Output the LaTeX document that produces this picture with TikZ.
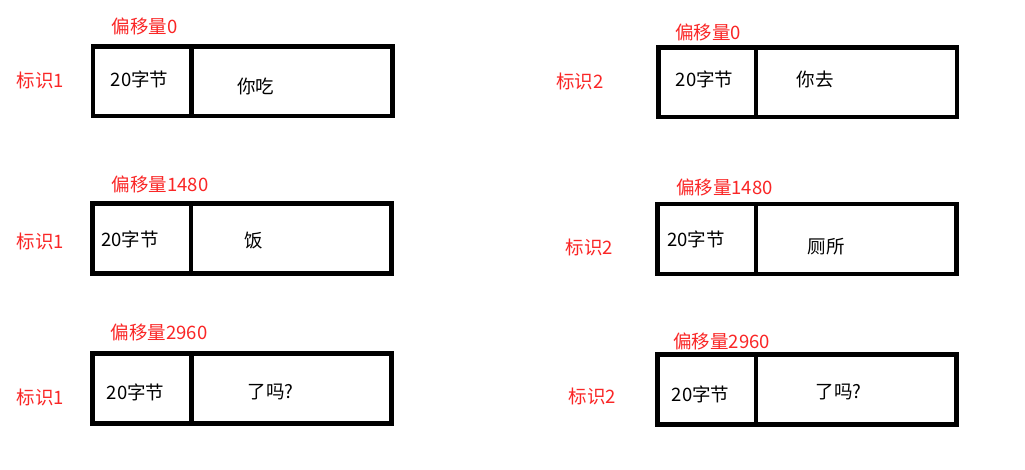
\documentclass[tikz,border=0pt]{standalone}
\usepackage{fontspec}
\setmainfont{Noto Sans CJK SC}
\definecolor{idred}{RGB}{250,38,38}
\begin{document}
\begin{tikzpicture}[x=1pt,y=-1pt,
  cell/.style={draw=black, line width=4.5pt, inner sep=0pt, outer sep=0pt},
  divider/.style={draw=black, line width=4.5pt},
  txt/.style={inner sep=0pt, anchor=center, text height=1.28em, text depth=0em,
    font=\fontsize{18.5}{21}\selectfont},
  redtxt/.style={txt, text=idred},
  blktxt/.style={txt, text=black}]
\useasboundingbox (0,0) rectangle (1025,469);
\fill[white] (0,0) rectangle (1025,469);
% boxes
\node[cell, minimum width=299.5pt, minimum height=69.5pt] (L1) at (242.75,81.25) {};
\node[cell, minimum width=299pt, minimum height=70pt] (L2) at (242,238.5) {};
\node[cell, minimum width=299pt, minimum height=70pt] (L3) at (242,388.7) {};
\node[cell, minimum width=298.5pt, minimum height=69.5pt] (R1) at (807.75,82.25) {};
\node[cell, minimum width=299pt, minimum height=70pt] (R2) at (807,239) {};
\node[cell, minimum width=299pt, minimum height=70pt] (R3) at (807,389.3) {};
% dividers
\coordinate (dL1) at (191.5,81);
\coordinate (dL2) at (191,238);
\coordinate (dL3) at (191.5,388);
\coordinate (dR1) at (756,82);
\coordinate (dR2) at (755.8,239);
\coordinate (dR3) at (756,389);
\foreach \d/\b in {dL1/L1,dL2/L2,dL3/L3,dR1/R1,dR2/R2,dR3/R3}
  \draw[divider] (\d |- \b.north) -- (\d |- \b.south);
% left column texts
\node[redtxt] (offL1) at (144.5,27) {偏移量0};
\node[redtxt] (idL1) at (40.5,81) {标识1};
\node[blktxt] (szL1) at (139.5,80) {20字节};
\node[blktxt] (ctL1) at (255.5,87) {你吃};
\node[redtxt] (offL2) at (160,185) {偏移量1480};
\node[redtxt] (idL2) at (40.3,241.7) {标识1};
\node[blktxt] (szL2) at (130,240) {20字节};
\node[blktxt] (ctL2) at (254,241) {饭};
\node[redtxt] (offL3) at (159,332.7) {偏移量2960};
\node[redtxt] (idL3) at (40.3,398.3) {标识1};
\node[blktxt] (szL3) at (135.5,393.3) {20字节};
\node[blktxt] (ctL3) at (270.8,391.7) {了吗?};
% right column texts
\node[redtxt] (offR1) at (708.3,33) {偏移量0};
\node[redtxt] (idR1) at (580,81.7) {标识2};
\node[blktxt] (szR1) at (704.7,80) {20字节};
\node[blktxt] (ctR1) at (815,80) {你去};
\node[redtxt] (offR2) at (724.5,188.3) {偏移量1480};
\node[redtxt] (idR2) at (589.3,248.3) {标识2};
\node[blktxt] (szR2) at (696,240) {20字节};
\node[blktxt] (ctR2) at (826,246.7) {厕所};
\node[redtxt] (offR3) at (721.7,342.3) {偏移量2960};
\node[redtxt] (idR3) at (592.2,396.7) {标识2};
\node[blktxt] (szR3) at (700.5,395) {20字节};
\node[blktxt] (ctR3) at (838.7,391.7) {了吗?};
\end{tikzpicture}
\end{document}
